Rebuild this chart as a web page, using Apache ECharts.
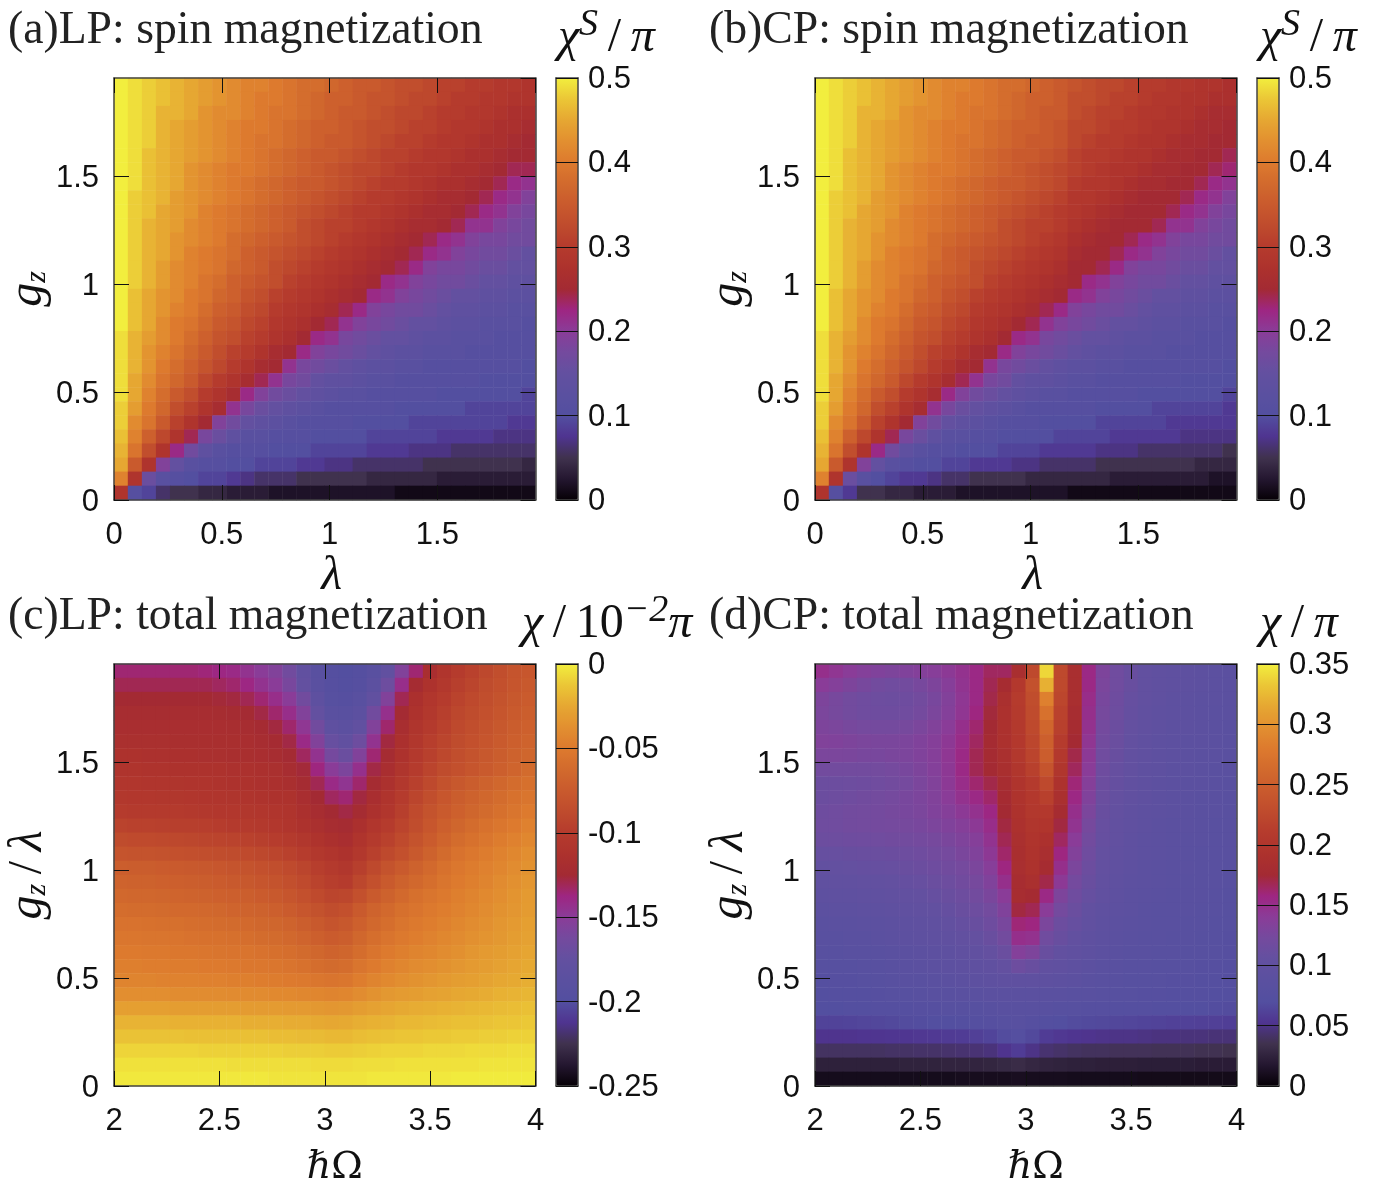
<!DOCTYPE html>
<html><head><meta charset="utf-8">
<style>html,body{margin:0;padding:0;background:#fff}#c{width:1385px;height:1184px}</style>
<script src="https://cdn.jsdelivr.net/npm/echarts@6/dist/echarts.min.js"></script></head>
<body><div id="c"></div>
<script>
// Rows run from the top of each panel down; values are estimates.
// spinLP, spinCP in units of 0.01; totalLP, totalCP in units of 0.001.
const spinLP=[
[50,49,48,47,46,45,44,43,42,41,41,40,39,38,38,37,36,35,35,34,33,33,32,31,31,30,30,29,29,28],
[50,49,48,47,46,45,44,43,42,41,40,40,39,38,37,36,36,35,34,34,33,32,32,31,30,30,29,29,28,28],
[50,49,48,46,46,45,43,42,42,41,40,39,39,38,37,36,35,35,34,33,32,32,31,30,30,29,29,28,27,27],
[50,49,48,46,45,44,43,42,41,40,40,39,38,37,36,36,35,34,33,33,32,31,31,30,29,29,28,27,27,26],
[50,49,48,46,45,44,43,42,41,40,39,39,38,37,36,35,35,34,33,32,31,31,30,29,29,28,27,27,26,25],
[50,49,47,46,45,44,43,42,41,40,39,38,37,36,35,35,34,33,32,31,31,30,29,29,28,27,27,26,25,25],
[50,49,47,46,45,43,42,41,40,40,39,38,37,36,35,34,33,32,32,31,30,29,29,28,27,27,26,25,24,24],
[50,49,47,46,45,43,42,41,40,39,38,37,36,35,35,34,33,32,31,30,30,29,28,27,27,26,25,24,22,21],
[50,48,47,46,44,43,42,41,40,39,38,37,36,35,34,33,32,31,30,30,29,28,27,26,26,25,24,22,21,19],
[50,48,47,45,44,43,41,40,39,38,37,36,35,34,33,32,31,30,30,29,28,27,26,26,25,24,22,21,19,18],
[50,48,46,45,44,42,41,40,39,38,37,36,35,33,32,31,31,30,29,28,27,26,26,25,24,21,21,19,18,17],
[50,48,46,45,43,42,41,40,38,37,36,35,34,33,32,31,30,29,28,27,26,25,24,22,21,19,18,18,17,17],
[50,48,46,45,43,41,40,39,38,36,35,34,33,32,31,30,29,28,27,26,25,24,22,21,19,18,17,17,16,15],
[50,48,46,44,42,41,40,39,37,36,35,33,32,31,30,29,28,27,26,25,24,22,19,18,18,17,16,16,15,15],
[50,48,46,44,42,41,39,38,36,35,34,33,31,30,29,28,27,26,25,22,21,19,18,17,17,16,15,15,14,14],
[50,47,45,43,42,40,39,37,36,34,33,31,30,29,28,27,26,25,22,21,19,18,17,16,15,15,14,14,13,13],
[50,47,45,43,41,40,38,36,35,33,32,30,29,28,27,26,24,22,19,18,17,17,16,15,14,14,13,13,12,12],
[50,47,45,42,40,39,37,35,34,32,31,29,28,27,25,24,21,19,18,17,16,15,15,14,13,13,12,12,12,11],
[49,46,44,42,40,38,36,34,33,31,30,28,27,25,22,21,18,17,16,15,15,14,13,13,12,12,12,11,11,11],
[49,46,43,41,39,37,35,33,31,30,28,26,25,22,19,18,17,16,15,14,13,13,12,12,12,11,11,11,11,11],
[49,46,43,40,38,36,34,32,30,28,26,25,21,18,17,16,15,14,13,13,12,12,11,11,11,11,11,11,11,10],
[49,45,42,39,37,35,32,30,28,26,24,21,18,17,15,14,14,13,12,12,11,11,11,11,11,11,10,10,10,10],
[49,45,41,38,35,33,30,28,26,22,19,17,16,15,14,13,12,12,11,11,11,11,11,10,10,10,10,10,10,9],
[48,44,40,37,33,31,28,26,21,18,16,15,14,13,12,11,11,11,11,11,10,10,10,10,10,9,9,9,9,9],
[48,42,39,35,31,28,25,19,17,15,14,13,12,11,11,11,11,10,10,10,10,9,9,9,9,9,9,9,8,8],
[47,41,36,32,28,24,18,16,14,12,12,11,11,11,10,10,10,10,9,9,9,9,9,8,8,8,8,7,7,7],
[46,39,33,28,22,17,14,12,11,11,11,10,10,10,9,9,9,9,8,8,8,7,7,7,6,6,6,6,6,6],
[45,35,28,19,15,12,11,11,10,10,9,9,9,8,8,7,7,6,6,6,6,6,5,5,5,5,5,5,5,4],
[41,28,16,12,11,10,9,9,8,7,6,6,6,5,5,5,5,5,4,4,4,4,4,3,3,3,3,3,3,3],
[28,11,9,6,5,5,4,4,3,3,3,2,2,2,2,2,2,2,2,2,1,1,1,1,1,1,1,1,1,1]];
const spinCP=[
[50,49,48,47,46,45,44,43,42,41,41,40,39,38,38,37,36,35,34,33,32,32,31,30,30,29,29,28,28,27],
[50,49,48,47,46,45,44,43,42,41,40,40,39,38,37,36,36,35,33,33,32,31,31,30,29,29,28,28,27,27],
[50,49,48,46,46,45,43,42,42,41,40,39,39,38,37,36,35,35,33,32,31,31,30,29,29,28,28,27,26,26],
[50,49,48,46,45,44,43,42,41,40,40,39,38,37,36,36,35,34,32,32,31,30,30,29,28,28,27,26,26,25],
[50,49,48,46,45,44,43,42,41,40,39,39,38,37,36,35,35,34,32,31,30,30,29,28,28,27,26,26,25,25],
[50,49,47,46,45,44,43,42,41,40,39,38,37,36,35,35,34,33,31,30,30,29,28,28,27,26,26,25,25,24],
[50,49,47,46,45,43,42,41,40,40,39,38,37,36,35,34,33,32,31,30,29,28,28,27,26,26,25,25,24,23],
[50,49,47,46,45,43,42,41,40,39,38,37,36,35,35,34,33,32,30,29,29,28,27,26,26,25,25,24,22,21],
[50,48,47,46,44,43,42,41,40,39,38,37,36,35,34,33,32,31,29,29,28,27,26,25,25,25,24,22,21,19],
[50,48,47,45,44,43,41,40,39,38,37,36,35,34,33,32,31,30,29,28,27,26,25,25,25,24,22,21,19,18],
[50,48,46,45,44,42,41,40,39,38,37,36,35,33,32,31,31,30,28,27,26,25,25,25,24,21,21,19,18,17],
[50,48,46,45,43,42,41,40,38,37,36,35,34,33,32,31,30,29,27,26,25,25,24,22,21,19,18,18,17,17],
[50,48,46,45,43,41,40,39,38,36,35,34,33,32,31,30,29,28,26,25,25,24,22,21,19,18,17,17,16,15],
[50,48,46,44,42,41,40,39,37,36,35,33,32,31,30,29,28,27,25,25,24,22,19,18,18,17,16,16,15,15],
[50,48,46,44,42,41,39,38,36,35,34,33,31,30,29,28,27,26,25,22,21,19,18,17,17,16,15,15,14,14],
[50,47,45,43,42,40,39,37,36,34,33,31,30,29,28,27,26,25,22,21,19,18,17,16,15,15,14,14,13,13],
[50,47,45,43,41,40,38,36,35,33,32,30,29,28,27,26,24,22,19,18,17,17,16,15,14,14,13,13,12,12],
[50,47,45,42,40,39,37,35,34,32,31,29,28,27,25,24,21,19,18,17,16,15,15,14,13,13,12,12,12,11],
[49,46,44,42,40,38,36,34,33,31,30,28,27,25,22,21,18,17,16,15,15,14,13,13,12,12,12,11,11,11],
[49,46,43,41,39,37,35,33,31,30,28,26,25,22,19,18,17,16,15,14,13,13,12,12,12,11,11,11,11,11],
[49,46,43,40,38,36,34,32,30,28,26,25,21,18,17,16,15,14,13,13,12,12,11,11,11,11,11,11,11,10],
[49,45,42,39,37,35,32,30,28,26,24,21,18,17,15,14,14,13,12,12,11,11,11,11,11,11,10,10,10,10],
[49,45,41,38,35,33,30,28,26,22,19,17,16,15,14,13,12,12,11,11,11,11,11,10,10,10,10,10,10,9],
[48,44,40,37,33,31,28,26,21,18,16,15,14,13,12,11,11,11,11,11,10,10,10,10,9,9,9,9,9,8],
[48,42,39,35,31,28,25,19,17,15,14,13,12,11,11,11,10,10,10,10,9,9,9,9,9,8,8,8,8,8],
[47,41,36,32,28,24,18,16,14,12,12,11,11,10,10,10,10,9,9,9,9,8,8,8,8,8,7,7,7,7],
[46,39,33,28,22,17,14,12,11,11,10,10,10,9,9,9,8,8,8,8,7,7,7,6,6,6,6,6,6,5],
[45,35,28,19,15,12,11,10,10,9,9,8,8,8,7,7,6,6,6,6,5,5,5,5,5,5,5,4,4,4],
[41,28,16,12,10,9,8,8,7,6,6,5,5,5,5,4,4,4,4,4,4,3,3,3,3,3,3,3,2,2],
[28,11,8,5,5,4,4,3,3,3,2,2,2,2,2,2,2,2,1,1,1,1,1,1,1,1,1,1,1,1]];
const totalLP=[
[-135,-135,-135,-135,-135,-135,-136,-138,-140,-145,-150,-155,-165,-178,-190,-197,-200,-197,-190,-178,-155,-135,-118,-108,-100,-95,-90,-85,-80,-78],
[-130,-130,-130,-130,-130,-130,-130,-132,-134,-138,-145,-150,-160,-175,-188,-195,-198,-195,-185,-168,-142,-122,-112,-104,-97,-92,-87,-83,-79,-76],
[-125,-125,-125,-125,-125,-125,-125,-126,-127,-130,-135,-142,-150,-165,-182,-192,-195,-190,-178,-155,-130,-115,-107,-100,-94,-89,-85,-81,-77,-74],
[-120,-120,-120,-120,-120,-120,-120,-121,-122,-124,-128,-134,-142,-155,-175,-188,-190,-185,-165,-143,-124,-112,-104,-97,-91,-87,-83,-79,-75,-72],
[-118,-118,-118,-118,-118,-118,-118,-118,-119,-120,-123,-127,-134,-147,-165,-180,-185,-178,-155,-134,-119,-109,-101,-95,-89,-85,-81,-77,-73,-70],
[-116,-116,-116,-116,-117,-117,-117,-117,-117,-118,-120,-123,-128,-140,-155,-172,-178,-168,-145,-127,-115,-106,-98,-92,-87,-83,-79,-75,-71,-68],
[-113,-113,-114,-114,-115,-115,-116,-116,-117,-117,-118,-120,-124,-132,-145,-162,-170,-155,-135,-122,-112,-103,-96,-90,-85,-81,-77,-73,-69,-66],
[-110,-110,-111,-111,-112,-112,-113,-113,-114,-114,-115,-116,-120,-126,-137,-150,-158,-143,-128,-118,-109,-100,-93,-87,-83,-79,-75,-71,-67,-62],
[-107,-107,-108,-108,-109,-110,-110,-111,-112,-113,-114,-115,-117,-122,-130,-140,-146,-134,-122,-114,-104,-96,-89,-82,-77,-73,-69,-65,-61,-58],
[-104,-105,-105,-106,-106,-107,-108,-108,-109,-110,-111,-112,-113,-118,-125,-132,-135,-127,-118,-110,-100,-92,-85,-78,-73,-69,-65,-61,-57,-54],
[-100,-101,-101,-102,-102,-103,-104,-105,-105,-106,-107,-108,-110,-115,-120,-125,-128,-122,-114,-107,-97,-88,-81,-75,-70,-66,-62,-58,-54,-50],
[-94,-95,-95,-96,-97,-97,-98,-99,-101,-102,-103,-105,-108,-112,-116,-120,-122,-115,-107,-100,-93,-86,-78,-71,-66,-61,-57,-53,-50,-46],
[-87,-88,-88,-89,-90,-91,-92,-93,-94,-95,-97,-99,-102,-106,-111,-115,-118,-110,-102,-95,-88,-81,-74,-67,-61,-57,-53,-49,-46,-42],
[-80,-81,-81,-82,-83,-84,-85,-86,-87,-88,-90,-92,-95,-99,-104,-108,-113,-104,-96,-89,-83,-76,-69,-62,-56,-52,-49,-45,-42,-38],
[-72,-73,-73,-74,-75,-76,-77,-78,-80,-81,-83,-85,-88,-92,-98,-102,-106,-97,-89,-81,-75,-69,-63,-57,-52,-49,-46,-43,-39,-36],
[-68,-69,-69,-70,-71,-72,-73,-74,-76,-77,-79,-81,-84,-88,-94,-98,-100,-91,-83,-75,-69,-64,-59,-54,-50,-47,-44,-40,-37,-34],
[-64,-65,-65,-66,-67,-68,-69,-70,-71,-72,-74,-76,-79,-83,-88,-92,-91,-83,-75,-69,-63,-58,-54,-51,-47,-44,-41,-38,-35,-32],
[-60,-61,-61,-62,-63,-63,-64,-65,-67,-68,-69,-71,-74,-78,-82,-86,-83,-75,-68,-63,-58,-55,-51,-48,-45,-42,-39,-36,-34,-31],
[-56,-56,-57,-58,-58,-59,-60,-61,-62,-63,-65,-66,-68,-72,-76,-80,-77,-70,-64,-59,-54,-51,-48,-45,-42,-39,-37,-34,-32,-29],
[-53,-53,-54,-54,-55,-56,-57,-57,-58,-59,-61,-62,-64,-67,-71,-74,-72,-65,-59,-55,-51,-48,-45,-42,-40,-37,-35,-33,-30,-28],
[-50,-50,-51,-51,-52,-52,-53,-54,-55,-55,-56,-58,-59,-62,-65,-68,-66,-60,-55,-50,-47,-44,-42,-39,-37,-34,-32,-30,-28,-26],
[-47,-47,-48,-48,-49,-49,-50,-50,-51,-52,-52,-53,-55,-57,-60,-62,-60,-54,-50,-46,-43,-40,-38,-36,-34,-32,-30,-28,-26,-24],
[-44,-44,-44,-45,-45,-45,-46,-46,-47,-47,-48,-49,-50,-51,-53,-55,-53,-48,-44,-41,-38,-36,-34,-32,-30,-29,-27,-25,-24,-22],
[-38,-38,-38,-38,-39,-39,-39,-39,-40,-40,-40,-41,-41,-42,-43,-44,-43,-39,-36,-33,-31,-30,-28,-27,-25,-24,-23,-21,-20,-19],
[-29,-29,-29,-29,-30,-30,-30,-30,-30,-31,-31,-31,-32,-32,-33,-34,-33,-30,-28,-26,-24,-23,-22,-21,-20,-19,-18,-17,-16,-15],
[-20,-20,-20,-20,-21,-21,-21,-21,-21,-22,-22,-22,-23,-23,-24,-25,-24,-22,-21,-20,-18,-18,-17,-16,-15,-15,-14,-13,-13,-12],
[-14,-14,-14,-14,-14,-15,-15,-15,-15,-15,-15,-16,-16,-17,-17,-18,-18,-16,-15,-14,-13,-13,-12,-12,-11,-11,-10,-10,-9,-9],
[-8,-8,-8,-8,-8,-8,-9,-9,-9,-9,-9,-9,-10,-10,-10,-11,-11,-10,-9,-8,-8,-8,-7,-7,-7,-6,-6,-6,-5,-5],
[-4,-4,-4,-4,-4,-4,-4,-4,-5,-5,-5,-5,-5,-5,-6,-6,-6,-5,-5,-5,-4,-4,-4,-4,-4,-4,-3,-3,-3,-3],
[-2,-2,-2,-2,-2,-2,-2,-2,-2,-2,-2,-3,-3,-3,-3,-3,-3,-3,-2,-2,-2,-2,-2,-2,-1,-1,-1,-1,-1,-1]];
const totalCP=[
[150,145,140,135,132,130,132,135,138,142,148,155,165,165,185,225,340,225,185,155,130,118,110,104,100,97,95,93,92,90],
[140,135,130,125,120,118,120,125,130,137,146,155,168,180,205,235,320,225,185,155,128,118,110,104,100,97,95,93,92,90],
[130,125,120,117,115,114,116,120,126,134,144,155,170,188,210,230,285,222,185,152,126,116,108,103,99,96,94,92,91,89],
[128,124,120,117,116,116,118,122,128,135,145,158,173,190,208,228,270,218,182,150,124,115,107,102,98,95,93,92,90,89],
[130,128,125,123,122,122,124,128,133,140,150,162,175,190,206,225,258,215,180,148,122,113,106,101,97,94,93,91,90,88],
[133,132,130,128,127,127,129,132,136,143,153,165,178,190,205,222,250,210,176,145,120,112,105,100,96,94,92,91,89,88],
[128,128,127,126,126,127,129,132,136,144,155,168,178,188,204,220,248,205,170,142,118,110,104,99,95,93,91,90,89,87],
[120,120,120,120,121,123,126,130,135,143,155,168,176,186,200,215,238,200,166,140,116,108,103,98,95,92,91,89,88,87],
[113,114,115,116,118,120,123,128,133,142,152,162,170,182,196,208,225,192,160,136,114,107,102,97,94,92,90,89,88,86],
[113,115,117,119,121,123,126,129,133,140,148,155,163,178,195,205,215,188,156,132,112,106,101,97,93,91,90,88,87,86],
[116,118,120,121,122,124,126,128,132,136,142,148,157,175,192,204,205,180,150,128,110,105,100,96,93,91,89,88,87,85],
[117,118,120,121,122,123,124,126,129,132,136,142,152,172,190,200,198,172,146,124,109,104,99,95,92,90,89,87,86,85],
[114,115,116,117,118,119,120,122,124,127,131,136,147,168,188,197,190,165,140,120,108,103,98,94,91,90,88,87,86,84],
[108,109,110,111,112,113,115,117,120,123,127,132,143,163,186,195,185,158,134,117,106,101,97,93,91,89,88,86,85,84],
[104,105,106,107,108,109,111,113,116,119,123,128,138,158,185,192,180,150,128,114,105,100,96,92,90,88,87,86,85,83],
[100,101,102,103,104,105,107,109,112,115,119,124,132,150,182,188,170,142,122,111,103,98,94,91,89,87,86,85,84,82],
[96,97,98,99,100,101,103,105,108,111,115,120,127,140,182,178,155,130,117,108,101,96,92,90,88,86,85,84,83,81],
[92,93,94,95,96,98,100,102,104,107,111,115,121,132,172,168,140,122,112,104,98,94,91,88,86,85,84,83,82,80],
[88,89,90,91,92,94,96,98,100,103,107,110,116,126,160,158,128,114,108,101,96,92,89,87,85,84,83,82,81,79],
[85,86,87,88,89,91,93,95,97,100,103,106,111,120,150,148,118,110,104,98,93,90,87,85,84,83,82,81,80,78],
[82,83,84,85,86,88,90,92,94,96,99,102,106,112,135,130,110,104,100,95,91,88,85,84,83,82,81,80,79,77],
[79,80,81,82,83,85,87,89,91,93,95,97,100,105,115,110,102,99,95,91,88,85,83,82,81,80,79,78,77,76],
[76,77,78,79,80,82,84,86,88,89,91,93,95,97,98,97,95,93,91,88,85,83,81,80,79,78,77,76,75,74],
[73,74,75,76,77,79,80,82,84,85,87,88,89,90,90,89,88,87,85,84,82,80,79,78,77,76,75,74,73,72],
[70,71,72,73,74,75,76,77,78,79,80,81,83,85,86,84,82,81,80,78,77,76,75,74,73,72,71,70,69,68],
[62,62,63,64,65,66,68,69,70,71,73,75,77,80,82,78,73,70,68,67,66,65,64,63,62,61,61,60,60,59],
[52,52,52,53,53,54,54,55,56,57,58,60,63,68,74,66,58,55,53,52,51,50,50,49,48,48,47,47,46,46],
[40,40,40,40,40,41,41,42,42,43,44,45,47,52,58,50,44,42,40,39,39,38,38,38,37,37,37,36,36,35],
[24,24,24,24,24,24,25,25,25,26,26,26,27,29,31,28,26,25,24,24,23,23,23,22,22,22,22,21,21,21],
[9,9,9,9,9,9,9,9,9,9,10,10,10,10,11,10,10,10,9,9,9,9,9,8,8,8,8,8,8,8]];
const palette=['#060006','#241730','#40324e','#4f3490','#534fa0','#5a50a0','#6350a0','#744a9e','#8a3c98','#9e2682','#a32a33','#ad322d','#b53b2d','#bf4b2d','#c95a2d','#d26a2d','#dd7a2e','#e28f30','#e6a732','#ebc636','#f2ee3e'];
const FS='"Liberation Sans",sans-serif', FT='"Liberation Serif",serif';
const panels=[
 {rows:spinLP,unit:.01,x:114,y:78,t:'(a)LP: spin magnetization',tx:8,xr:[0,1.955],lo:0,hi:.5,step:.1,cb:'{i|χ}{s|S}{r|\u2009/\u2009}{i|π}',cx:558,xn:'{i|λ}',xp:14,xg:40,yn:'{i|g}{sub|z}'},
 {rows:spinCP,unit:.01,x:815,y:78,t:'(b)CP: spin magnetization',tx:709,xr:[0,1.955],lo:0,hi:.5,step:.1,cb:'{i|χ}{s|S}{r|\u2009/\u2009}{i|π}',cx:1260,xn:'{i|λ}',xp:14,xg:40,yn:'{i|g}{sub|z}'},
 {rows:totalLP,unit:.001,x:114,y:664,t:'(c)LP: total magnetization',tx:8,xr:[2,4],lo:-.25,hi:0,step:.05,cb:'{i|χ}{r|\u2009/\u200910}{s|−2}{i|π}',cx:522,xn:'{h|ℏΩ}',xp:20,xg:54,yn:'{i|g}{sub|z}{r|\u2009/\u2009}{i|λ}'},
 {rows:totalCP,unit:.001,x:815,y:664,t:'(d)CP: total magnetization',tx:709,xr:[2,4],lo:0,hi:.35,step:.05,cb:'{i|χ}{r|\u2009/\u2009}{i|π}',cx:1260,xn:'{h|ℏΩ}',xp:20,xg:54,yn:'{i|g}{sub|z}{r|\u2009/\u2009}{i|λ}'}
];
const W=421.5,H=422,CBW=22,CBGAP=442;
const base={fontFamily:FT,fontWeight:'normal',color:'#111',lineHeight:56};
const rich={i:{...base,fontStyle:'italic',fontSize:48,verticalAlign:'bottom'},
 r:{...base,fontSize:48,verticalAlign:'bottom'},
 s:{...base,fontStyle:'italic',fontSize:38,verticalAlign:'top'},
 sub:{...base,fontStyle:'italic',fontSize:30,lineHeight:42,verticalAlign:'bottom'},
 h:{...base,fontFamily:'"DejaVu Serif",serif',fontSize:38}};
const grid=[],xAxis=[],yAxis=[],series=[],visualMap=[],title=[];
const line={show:true,onZero:false,lineStyle:{color:'#444',width:1.5}};
const label={fontFamily:FS,fontSize:31,color:'#111',hideOverlap:false};
function frame(g,xOpt,yOpt,xMax){
  const tick={show:true,inside:true,length:15,lineStyle:{color:'#111',width:1}};
  ['bottom','top'].forEach((p,k)=>xAxis.push(Object.assign({gridIndex:g,type:'value',position:p,z:10,splitLine:{show:false},axisLine:line,axisTick:tick,axisLabel:{...label,show:k==0,margin:20,showMaxLabel:xMax}},xOpt,k?{name:''}:{})));
  ['left','right'].forEach((p,k)=>yAxis.push(Object.assign({gridIndex:g,type:'value',position:p,z:10,splitLine:{show:false},axisLine:line,axisTick:tick,axisLabel:{...label,show:k==0,margin:15,verticalAlign:'top',padding:[-13.5,0,0,0],showMaxLabel:false}},yOpt,k?{name:''}:{})));
}
panels.forEach((p,n)=>{
  const nr=p.rows.length;
  const box={left:p.x,top:p.y,width:W,height:H,outerBoundsMode:'none'};
  const gh=grid.length; grid.push(box);
  const ax=xAxis.length, ay=yAxis.length;
  xAxis.push({gridIndex:gh,type:'category',show:false,data:p.rows[0].map((_,i)=>i)});
  yAxis.push({gridIndex:gh,type:'category',show:false,data:p.rows.map((_,i)=>i)});
  const data=[];
  p.rows.forEach((row,r)=>row.forEach((v,c)=>data.push([c,nr-1-r,+(v*p.unit).toFixed(4)])));
  visualMap.push({type:'continuous',seriesIndex:series.length,min:p.lo,max:p.hi,show:true,calculable:false,hoverLink:false,text:null,showLabel:false,left:p.x+CBGAP,top:p.y,itemWidth:CBW,itemHeight:H,padding:0,inRange:{color:palette},textStyle:{fontSize:0}});
  series.push({type:'heatmap',xAxisIndex:ax,yAxisIndex:ay,data,progressive:0,animation:false,emphasis:{disabled:true}});
  const gf=grid.length; grid.push(box);
  frame(gf,{min:p.xr[0],max:p.xr[1],interval:.5,name:p.xn,nameLocation:'middle',nameGap:p.xg,nameTextStyle:{rich,padding:[0,0,0,p.xp]}},
    {min:0,max:1.955,interval:.5,name:p.yn,nameLocation:'middle',nameGap:46,nameRotate:90,nameTextStyle:{rich}},p.xr[1]==4);
  const gc=grid.length; grid.push({...box,left:p.x+CBGAP,width:CBW});
  const bare={gridIndex:gc,type:'value',min:0,max:1,z:10,axisLine:line,axisTick:{show:false},axisLabel:{show:false},splitLine:{show:false}};
  xAxis.push({...bare,position:'bottom'},{...bare,position:'top'});
  yAxis.push({...bare,min:p.lo,max:p.hi,interval:p.step,position:'right',axisTick:{show:true,inside:true,length:CBW,lineStyle:{color:'#111',width:1}},axisLabel:{...label,margin:10,verticalAlign:'top',padding:[-14,0,0,0]}});
  yAxis.push({...bare,min:p.lo,max:p.hi,interval:p.step,position:'left'});
  title.push({text:p.t,left:p.tx,top:p.y-70,padding:0,textStyle:{fontFamily:FT,fontSize:45.7,fontWeight:'normal',color:'#222'}});
  title.push({text:p.cb,left:p.cx,top:p.y-72,padding:0,textStyle:{rich}});
});
const chart=echarts.init(document.getElementById('c'),null,{renderer:'canvas'});
chart.setOption({animation:false,backgroundColor:'#fff',title,grid,xAxis,yAxis,visualMap,series,tooltip:{show:false}});
</script></body></html>
